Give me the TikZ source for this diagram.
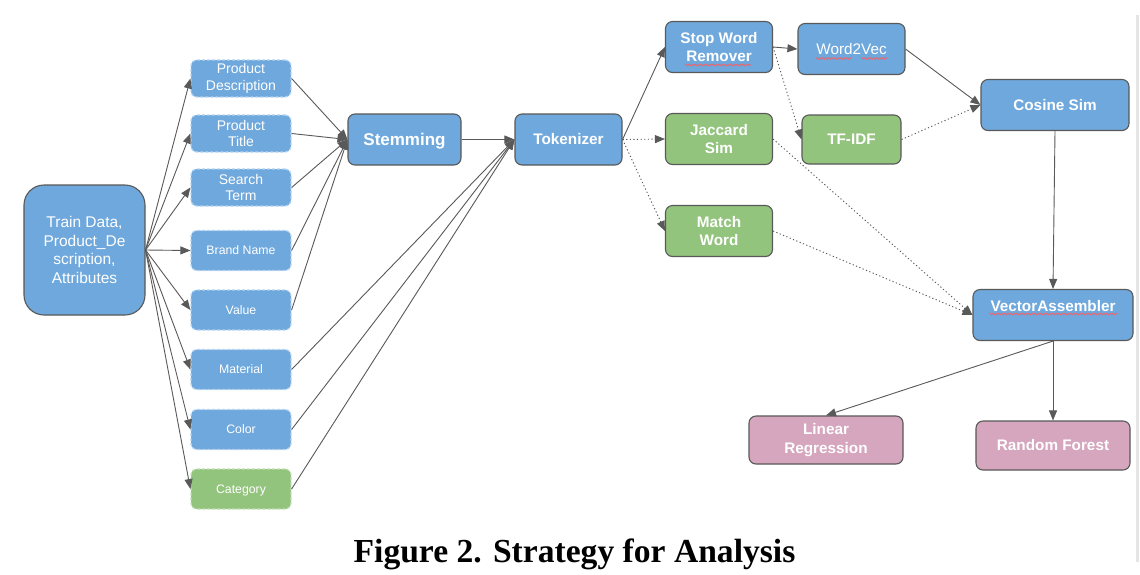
\documentclass[tikz,border=0pt]{standalone}
\usepackage{fontspec}
\setmainfont{Liberation Sans}
\newfontfamily\capfont{Liberation Serif}
\usetikzlibrary{arrows.meta,decorations.pathmorphing}
\definecolor{bfill}{HTML}{6FA8DC}
\definecolor{gfill}{HTML}{93C47D}
\definecolor{pfill}{HTML}{D5A6BD}
\definecolor{edgec}{HTML}{595959}
\definecolor{dashc}{HTML}{B4D3F2}
\definecolor{dashg}{HTML}{C3E0B5}
\tikzset{
  boxbase/.style={rounded corners=7pt, draw=edgec, line width=1.1pt, text=white, align=center, inner sep=0pt,
     font=\fontsize{15.3}{18.5}\selectfont\bfseries},
  bluebox/.style={boxbase, fill=bfill},
  greenbox/.style={boxbase, fill=gfill},
  pinkbox/.style={boxbase, fill=pfill},
  attrbox/.style={rounded corners=6pt, fill=bfill, draw=dashc, line width=1.2pt, dash pattern=on 3pt off 2pt,
     text=white, align=center, inner sep=0pt, minimum width=100pt, font=\fontsize{14}{16.6}\selectfont},
  smallattr/.style={attrbox, minimum height=40pt, font=\fontsize{12.3}{15}\selectfont},
  arr/.style={draw=edgec, line width=0.9pt, -{Triangle[length=10pt,width=8pt]}},
  darr/.style={arr, dash pattern=on 1.2pt off 2.4pt},
  spell/.style={draw=red!65, line width=0.6pt, decorate, decoration={snake, amplitude=0.9pt, segment length=3pt}},
}
\begin{document}
\begin{tikzpicture}[x=1pt,y=-1pt]
\useasboundingbox (0,0) rectangle (1140,574);
\fill[white] (0,0) rectangle (1140,574);
\draw[draw=black!10, line width=3pt] (1137,15) -- (1137,562);

% source
\node[bluebox, font=\fontsize{15.5}{18.7}\selectfont, rounded corners=20pt, minimum width=121pt, minimum height=130pt] (td) at (84.5,250)
  {Train Data,\\Product\_De\\scription,\\Attributes};

% attribute column
\node[attrbox, minimum height=37pt] (pd) at (241,78.5) {Product\\Description};
\node[attrbox, minimum height=37pt] (pt) at (241,133.5) {Product\\Title};
\node[attrbox, minimum height=37pt] (st) at (241,187.5) {Search\\Term};
\node[smallattr] (bn) at (241,250.5) {Brand Name};
\node[smallattr] (vl) at (241,310) {Value};
\node[smallattr] (ma) at (241,369.5) {Material};
\node[smallattr] (co) at (241,429.5) {Color};
\node[smallattr, fill=gfill, draw=dashg, text depth=0pt] (ca) at (241,489) {Category};

% pipeline
\node[bluebox, font=\fontsize{17}{20}\selectfont\bfseries, text depth=0pt, minimum width=113pt, minimum height=51pt] (stem) at (404.5,139.5) {Stemming};
\node[bluebox, minimum width=107pt, minimum height=51pt] (tok) at (568.5,139.5) {Tokenizer};
\node[bluebox, minimum width=107pt, minimum height=51pt] (swr) at (719,47) {Stop Word\\Remover};
\node[bluebox, font=\fontsize{15.3}{18.5}\selectfont, minimum width=107pt, minimum height=51pt] (w2v) at (851.5,49) {Word2Vec};
\node[greenbox, minimum width=107pt, minimum height=51pt] (jac) at (719,139) {Jaccard\\Sim};
\node[greenbox, minimum width=99pt, minimum height=49pt] (tfidf) at (851.5,139.5) {TF-IDF};
\node[greenbox, minimum width=107pt, minimum height=51pt] (mw) at (719,231) {Match\\Word};
\node[bluebox, minimum width=148pt, minimum height=51pt] (cos) at (1055,105) {Cosine Sim};
\node[bluebox, minimum width=160pt, minimum height=51pt] (vec) at (1053,315) {VectorAssembler\\\mbox{}};
\node[pinkbox, minimum width=154pt, minimum height=48pt] (lr) at (826,440) {Linear\\Regression};
\node[pinkbox, minimum width=154pt, minimum height=49pt] (rf) at (1053,445.5) {Random Forest};

% spell-check underlines
\draw[spell] (685,65) -- (751,65);
\draw[spell] (816,58.5) -- (851,58.5);
\draw[spell] (861,58.5) -- (887,58.5);
\draw[spell] (989,314) -- (1117,314);

% edges
\foreach \n in {pd,pt,st,bn,vl,ma,co,ca} \draw[arr] (td.east) -- (\n.west);
\foreach \n in {pd,pt,st,bn,vl} \draw[arr] (\n.east) -- (stem.west);
\foreach \n in {ma,co,ca} \draw[arr] (\n.east) -- (tok.west);
\draw[arr] (stem.east) -- (tok.west);
\draw[arr] (tok.east) -- (swr.west);
\draw[darr] (tok.east) -- (jac.west);
\draw[darr] (tok.east) -- (mw.west);
\draw[arr] (swr.east) -- (w2v.west);
\draw[darr] (swr.east) -- (tfidf.west);
\draw[arr] (w2v.east) -- (cos.west);
\draw[darr] (tfidf.east) -- (cos.west);
\draw[darr] (jac.east) -- (vec.west);
\draw[darr] (mw.east) -- (vec.west);
\draw[arr] (cos.south) -- (vec.north);
\draw[arr] (vec.south) -- (lr.north);
\draw[arr] (vec.south) -- (rf.north);

% caption
\node[anchor=base, inner sep=0pt, font=\capfont\bfseries\fontsize{33.6}{36}\selectfont] (cap) at (574.5,562) {Figure 2. Strategy for Analysis};
\end{tikzpicture}
\end{document}
